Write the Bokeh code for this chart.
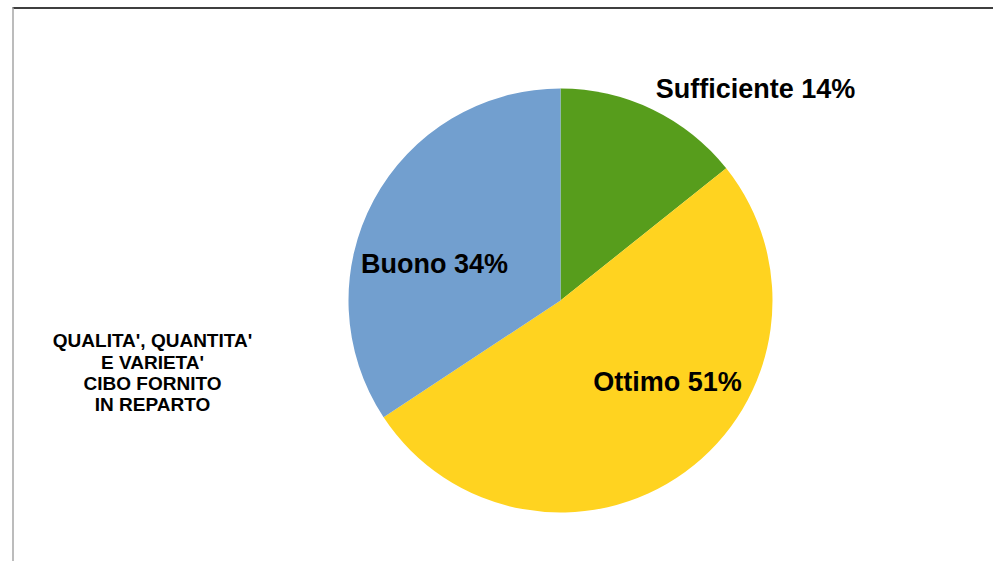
import math
from bokeh.plotting import figure
from bokeh.models import ColumnDataSource, Range1d
from bokeh.embed import file_html
from bokeh.resources import INLINE
from bokeh.core.properties import value

# ---- data ----
categories = ["Sufficiente", "Ottimo", "Buono"]
counts = [5, 18, 12]
colors = ["#579d1c", "#ffd320", "#729fcf"]
title_lines = ["QUALITA', QUANTITA'", "E VARIETA'", "CIBO FORNITO", "IN REPARTO"]

# ---- layout ----
W, H = 993, 561
cx, cy, R = 560, H - 300, 212
# label offsets from pie centre (px)
label_off = [(195, 212), (107, -81), (-126, 37)]

total = sum(counts)
starts, ends, labels, lx, ly = [], [], [], [], []
a = math.pi / 2
for i, c in enumerate(counts):
    frac = c / total
    starts.append(a)
    a2 = a - frac * 2 * math.pi
    ends.append(a2)
    a = a2
    labels.append(f"{categories[i]} {round(frac * 100)}%")
    lx.append(cx + label_off[i][0])
    ly.append(cy + label_off[i][1])

src = ColumnDataSource(dict(start=starts, end=ends, color=colors,
                            x=[cx] * 3, y=[cy] * 3))
lsrc = ColumnDataSource(dict(x=lx, y=ly, text=labels))

p = figure(width=W, height=H, output_backend="svg", toolbar_location=None,
           x_range=Range1d(0, W), y_range=Range1d(0, H),
           min_border=0, min_border_left=0, min_border_right=0,
           min_border_top=0, min_border_bottom=0)
p.axis.visible = False
p.grid.visible = False
p.outline_line_color = None
p.background_fill_color = "white"
p.border_fill_color = "white"

# chart frame (extends past the window on right/bottom)
p.segment(x0=[12], y0=[H - 7.5], x1=[W + 10], y1=[H - 7.5], line_color="#3f3f3f", line_width=2)
p.segment(x0=[12.5], y0=[H - 7], x1=[12.5], y1=[-10], line_color="#a6a6a6", line_width=1.5)

p.wedge(x="x", y="y", radius=R, start_angle="start", end_angle="end",
        direction="clock", fill_color="color", line_color=None, source=src)

p.text(x="x", y="y", text="text", source=lsrc, text_align="center",
       text_baseline="middle", text_font=value("Liberation Sans"),
       text_font_style="bold", text_font_size="27px", text_color="black")

tx = [152] * len(title_lines)
ty = [H - 340, H - 361.5, H - 383, H - 404]
p.text(x=tx, y=ty, text=title_lines, text_align="center", text_baseline="middle",
       text_font=value("Liberation Sans"), text_font_style="bold",
       text_font_size="19px", text_color="black")

open("out.html", "w").write(file_html(p, INLINE))
